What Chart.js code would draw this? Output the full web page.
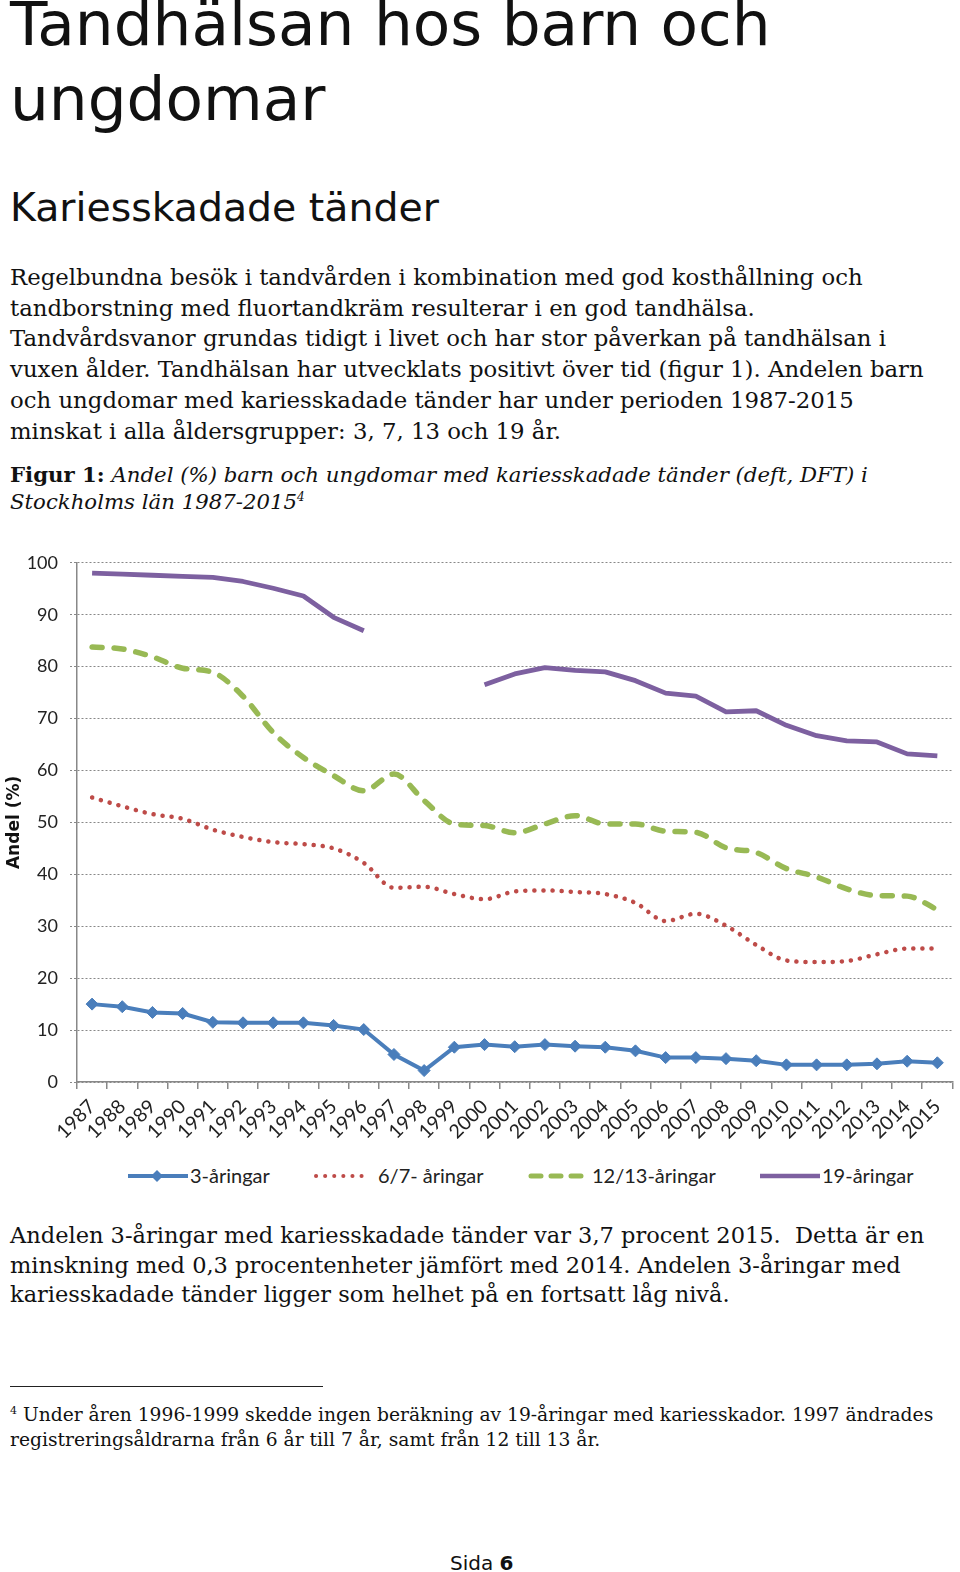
<!DOCTYPE html>
<html lang="sv">
<head>
<meta charset="utf-8">
<script src="https://cdn.jsdelivr.net/npm/chart.js@4.4.1/dist/chart.umd.min.js"></script>
<style>
  html, body { margin: 0; padding: 0; background: #fff; }
  body { width: 960px; height: 1572px; position: relative; overflow: hidden; color: #111; }
  .abs { position: absolute; white-space: nowrap; }
  h1 { position: absolute; left: 10px; top: -14px; margin: 0; font: 400 61.3px/75px "DejaVu Sans", sans-serif; }
  h2 { position: absolute; left: 10px; top: 183px; margin: 0; font: 400 39.4px/48px "DejaVu Sans", sans-serif; }
  .body { font: 400 22.8px/30.7px "DejaVu Serif", serif; }
  .cap { font: italic 400 21.25px/27px "DejaVu Serif", serif; }
  .cap b { font-style: normal; }
  .foot { font: 400 18.7px/25px "DejaVu Serif", serif; }
  sup { line-height: 0; }
  #chartBox { position: absolute; left: 0; top: 540px; width: 960px; height: 622px; }
  #legend { position: absolute; top: 1162px; left: 0; width: 960px; height: 28px;
            font: 400 20px "Lato", sans-serif; color: #222; }
  #legend span { position: absolute; top: 1px; }
  #legend svg { position: absolute; top: 0; }
</style>
</head>
<body>
<h1>Tandhälsan hos barn och<br>ungdomar</h1>
<h2>Kariesskadade tänder</h2>

<div class="abs body" style="left:10px; top:262px;">
Regelbundna besök i tandvården i kombination med god kosthållning och<br>
tandborstning med fluortandkräm resulterar i en god tandhälsa.<br>
Tandvårdsvanor grundas tidigt i livet och har stor påverkan på tandhälsan i<br>
vuxen ålder. Tandhälsan har utvecklats positivt över tid (figur 1). Andelen barn<br>
och ungdomar med kariesskadade tänder har under perioden 1987-2015<br>
minskat i alla åldersgrupper: 3, 7, 13 och 19 år.
</div>

<div class="abs cap" style="left:10px; top:461px;">
<b>Figur 1:</b> Andel (%) barn och ungdomar med kariesskadade tänder (deft, DFT) i<br>
Stockholms län 1987-2015<sup style="font-size:12px">4</sup>
</div>

<div id="chartBox"><canvas id="chart"></canvas></div>

<div id="legend">
  <svg style="left:126px" width="64" height="28"><line x1="2" y1="14" x2="62" y2="14" stroke="#4a7ebb" stroke-width="4"/><polygon points="31,8 37,14 31,20 25,14" fill="#4a7ebb"/></svg>
  <span style="left:190px">3-åringar</span>
  <svg style="left:312px" width="60" height="28"><line x1="4" y1="14" x2="56" y2="14" stroke="#be4b48" stroke-width="4" stroke-linecap="round" stroke-dasharray="0.1 9"/></svg>
  <span style="left:378px">6/7- åringar</span>
  <svg style="left:526px" width="60" height="28"><line x1="5" y1="14" x2="55" y2="14" stroke="#98b954" stroke-width="5" stroke-linecap="round" stroke-dasharray="10 10"/></svg>
  <span style="left:592px">12/13-åringar</span>
  <svg style="left:758px" width="64" height="28"><line x1="2" y1="14" x2="62" y2="14" stroke="#7d60a0" stroke-width="4.5"/></svg>
  <span style="left:822px">19-åringar</span>
</div>

<div class="abs body" style="left:10px; top:1221px; line-height:29.5px; font-size:22.5px;">
Andelen 3-åringar med kariesskadade tänder var 3,7 procent 2015.&nbsp; Detta är en<br>
minskning med 0,3 procentenheter jämfört med 2014. Andelen 3-åringar med<br>
kariesskadade tänder ligger som helhet på en fortsatt låg nivå.
</div>

<div class="abs" style="left:10px; top:1386px; width:313px; height:0; border-top:1.5px solid #222;"></div>
<div class="abs foot" style="left:10px; top:1402px;">
<sup style="font-size:11px">4</sup> Under åren 1996-1999 skedde ingen beräkning av 19-åringar med kariesskador. 1997 ändrades<br>
registreringsåldrarna från 6 år till 7 år, samt från 12 till 13 år.
</div>

<div class="abs" style="left:450px; top:1551px; font: 400 20px 'DejaVu Sans', sans-serif;">Sida <b>6</b></div>

<script>
const years = ['1987','1988','1989','1990','1991','1992','1993','1994','1995','1996',
  '1997','1998','1999','2000','2001','2002','2003','2004','2005','2006',
  '2007','2008','2009','2010','2011','2012','2013','2014','2015'];

const age3 = [15.0, 14.5, 13.4, 13.2, 11.5, 11.4, 11.4, 11.4, 10.9, 10.1,
  5.3, 2.2, 6.7, 7.2, 6.8, 7.2, 6.9, 6.7, 6.0, 4.7,
  4.7, 4.5, 4.1, 3.3, 3.3, 3.3, 3.5, 4.0, 3.7];

const age67 = [54.8, 53.1, 51.6, 50.7, 48.6, 47.2, 46.2, 45.8, 45.0, 42.2,
  37.4, 37.6, 36.2, 35.2, 36.7, 36.9, 36.6, 36.2, 34.5, 31.0,
  32.4, 30.1, 26.4, 23.4, 23.1, 23.3, 24.6, 25.7, 25.7];

const age1213 = [83.8, 83.4, 81.9, 79.7, 78.9, 74.3, 67.3, 62.5, 59.0, 56.1,
  59.3, 54.2, 49.7, 49.4, 48.0, 49.7, 51.3, 49.7, 49.7, 48.3,
  48.1, 45.1, 44.2, 41.1, 39.5, 37.2, 35.9, 35.8, 33.2];

const age19 = [98.0, 97.8, 97.6, 97.4, 97.2, 96.4, 95.1, 93.6, 89.5, 86.9,
  null, null, null, 76.5, 78.6, 79.8, 79.3, 79.0, 77.3, 74.9,
  74.3, 71.3, 71.5, 68.7, 66.7, 65.7, 65.5, 63.2, 62.8];

const yTicks = [0, 10, 20, 30, 40, 50, 60, 70, 80, 90, 100];

const ctx = document.getElementById('chart').getContext('2d');
new Chart(ctx, {
  type: 'line',
  data: {
    labels: years,
    datasets: [
      {
        label: '3-åringar',
        data: age3,
        borderColor: '#4a7ebb',
        backgroundColor: '#4a7ebb',
        borderWidth: 4,
        pointStyle: 'rectRot',
        pointRadius: 6,
        pointBorderWidth: 1,
        tension: 0
      },
      {
        label: '6/7- åringar',
        data: age67,
        borderColor: '#be4b48',
        borderWidth: 4.5,
        borderDash: [0.1, 9],
        borderCapStyle: 'round',
        pointRadius: 0,
        cubicInterpolationMode: 'monotone'
      },
      {
        label: '12/13-åringar',
        data: age1213,
        borderColor: '#98b954',
        borderWidth: 5.5,
        borderDash: [10, 12],
        borderCapStyle: 'round',
        pointRadius: 0,
        cubicInterpolationMode: 'monotone'
      },
      {
        label: '19-åringar',
        data: age19,
        borderColor: '#7d60a0',
        borderWidth: 4.8,
        pointRadius: 0,
        borderJoinStyle: 'round',
        tension: 0,
        spanGaps: false
      }
    ]
  },
  options: {
    responsive: true,
    maintainAspectRatio: false,
    animation: false,
    layout: { padding: { top: 18, right: 3, left: 0, bottom: 0 } },
    plugins: {
      legend: { display: false },
      tooltip: { enabled: false }
    },
    scales: {
      x: {
        offset: true,
        grid: { offset: true, drawOnChartArea: false, drawTicks: true, tickLength: 7, color: '#888', lineWidth: 1.5 },
        border: { color: '#888', width: 1.5 },
        ticks: {
          minRotation: 45, maxRotation: 45, autoSkip: false,
          color: '#222', padding: 6,
          font: { family: 'Lato', size: 19.5 }
        },
        afterFit: (scale) => { scale.height = 80; }
      },
      y: {
        min: 0, max: 100,
        afterBuildTicks: (scale) => { scale.ticks = yTicks.map(v => ({ value: v })); },
        grid: { color: '#888', lineWidth: 1, tickBorderDash: [2, 2], tickLength: 7 },
        border: { color: '#888', width: 1.5, dash: [2, 2] },
        ticks: { color: '#222', padding: 12, font: { family: 'Lato', size: 18 } },
        title: { display: true, text: 'Andel (%)', color: '#111', padding: { top: 4, bottom: 0 }, font: { family: 'DejaVu Sans', size: 17, weight: 'bold' } },
        afterFit: (scale) => { scale.width = 77; }
      }
    }
  }
});
</script>
</body>
</html>
